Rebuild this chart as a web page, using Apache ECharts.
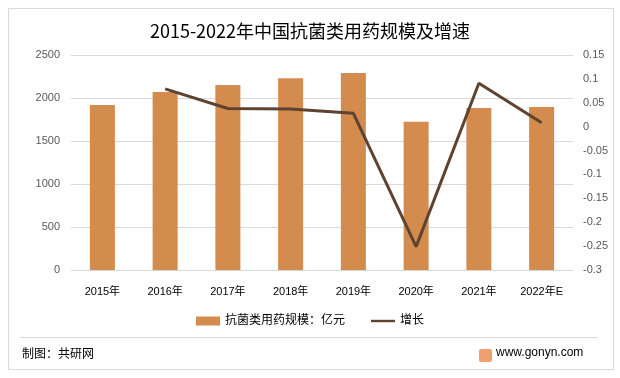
<!DOCTYPE html>
<html><head><meta charset="utf-8">
<script src="https://cdn.jsdelivr.net/npm/echarts@6/dist/echarts.min.js"></script>
<style>html,body{margin:0;padding:0;background:#fff}#c{width:620px;height:378px}</style>
</head><body><div id="c"></div>
<script>
var categories = ['2015年','2016年','2017年','2018年','2019年','2020年','2021年','2022年E'];
var scaleValues = [1920, 2070, 2150, 2230, 2290, 1725, 1885, 1895];
var growthValues = [null, 0.079, 0.038, 0.037, 0.028, -0.251, 0.091, 0.008];
var leftTicks = [0, 500, 1000, 1500, 2000, 2500];
var rightTicks = [-0.3, -0.25, -0.2, -0.15, -0.1, -0.05, 0, 0.05, 0.1, 0.15];
var titleText = '2015-2022年中国抗菌类用药规模及增速';
var barName = '抗菌类用药规模：亿元';
var lineName = '增长';

var FONT = '"Liberation Sans","Noto Sans CJK SC",sans-serif';
var chart = echarts.init(document.getElementById('c'));
chart.setOption({
  animation: false,
  backgroundColor: '#fff',
  title: {
    text: titleText, left: 'center', top: 17,
    textStyle: {fontFamily: '"Noto Sans CJK SC",sans-serif', fontSize: 18, fontWeight: 'normal', color: '#000'}
  },
  grid: {left: 71, right: 47, top: 55, bottom: 108},
  legend: {
    bottom: 46, left: 'center', itemGap: 26,
    textStyle: {fontFamily: FONT, fontSize: 12, color: '#000'},
    data: [
      {name: barName, icon: 'rect', itemStyle: {color: '#D38B4E'}},
      {name: lineName, icon: 'path://M0,0 L30,0 L30,3 L0,3 Z', itemStyle: {color: '#5E4430'}}
    ],
    itemWidth: 24, itemHeight: 9
  },
  xAxis: {
    type: 'category', data: categories,
    axisLine: {lineStyle: {color: '#D9D9D9'}},
    axisTick: {show: false},
    axisLabel: {fontFamily: FONT, fontSize: 11, color: '#000', margin: 16}
  },
  yAxis: [{
    type: 'value', min: 0, max: 2500, interval: 500,
    axisLine: {show: false}, axisTick: {show: false},
    axisLabel: {fontFamily: FONT, fontSize: 11, color: '#595959', margin: 11,
      formatter: function (v) { return String(v); }},
    splitLine: {lineStyle: {color: '#D9D9D9'}}
  }, {
    type: 'value', min: -0.3, max: 0.15, interval: 0.05, position: 'right',
    axisLine: {show: false}, axisTick: {show: false},
    axisLabel: {fontFamily: FONT, fontSize: 11, color: '#595959', margin: 10,
      formatter: function (v) { return String(Math.round(v * 100) / 100); }},
    splitLine: {show: false}
  }],
  series: [{
    name: barName, type: 'bar', data: scaleValues, barWidth: 25,
    itemStyle: {color: '#D38B4E'}
  }, {
    name: lineName, type: 'line', yAxisIndex: 1, data: growthValues,
    symbol: 'none', lineStyle: {color: '#5E4430', width: 3},
    itemStyle: {color: '#5E4430'}
  }],
  graphic: [
    {type: 'rect', shape: {x: 8.5, y: 8.5, width: 605, height: 361}, style: {fill: 'none', stroke: '#D9D9D9', lineWidth: 1}, silent: true},
    {type: 'line', shape: {x1: 20, y1: 337.5, x2: 598, y2: 337.5}, style: {stroke: '#D9D9D9', lineWidth: 1}},
    {type: 'text', left: 22, top: 347, style: {text: '制图：共研网', fontFamily: '"Noto Sans CJK SC",sans-serif', fontSize: 12, fill: '#000'}},
    {type: 'rect', shape: {x: 479, y: 349, width: 13, height: 13, r: 2}, style: {fill: '#F0A070'}},
    {type: 'text', left: 496, top: 347, style: {text: 'www.gonyn.com', fontFamily: FONT, fontSize: 12, fill: '#000'}}
  ]
});
</script></body></html>
